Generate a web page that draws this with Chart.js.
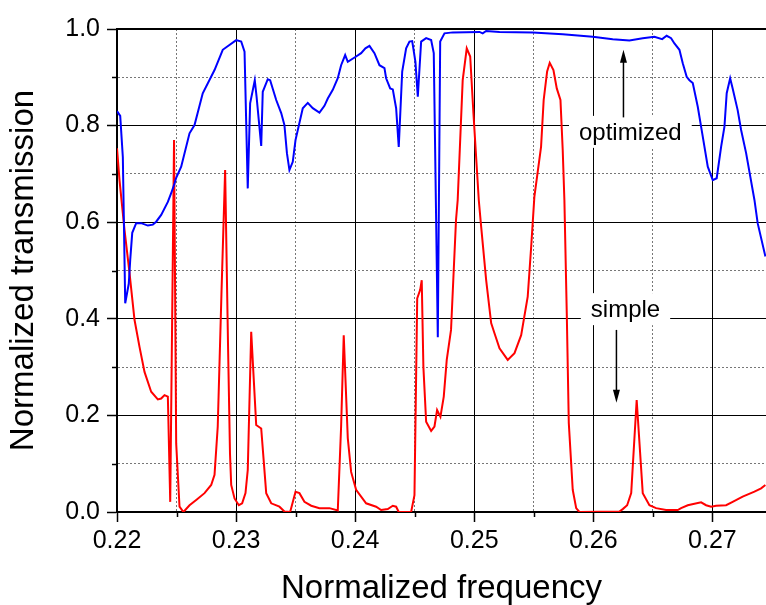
<!DOCTYPE html>
<html>
<head>
<meta charset="utf-8">
<script src="https://cdn.jsdelivr.net/npm/chart.js@4"></script>
<style>
  html, body { margin: 0; padding: 0; background: #fff; }
  #wrap { width: 766px; height: 605px; }
</style>
</head>
<body>
<div id="wrap"><canvas id="chart"></canvas></div>
<script>
// optimized structure (blue)
const blueFreq = [0.2200, 0.22027, 0.22049, 0.22069, 0.22099, 0.22111, 0.22128, 0.22161, 0.22203, 0.22259,
  0.22301, 0.22329, 0.22371, 0.22427, 0.22455, 0.22483, 0.22497, 0.22539, 0.22609, 0.22651,
  0.22720, 0.22819, 0.22888, 0.23001, 0.23043, 0.23071, 0.23098, 0.23118, 0.23157, 0.23172,
  0.23211, 0.23224, 0.23266, 0.23286, 0.23337, 0.23379, 0.23406, 0.23427, 0.23448, 0.23476,
  0.23499, 0.23560, 0.23602, 0.23644, 0.23700, 0.23742, 0.23770, 0.23812, 0.23854, 0.23882,
  0.23916, 0.23938, 0.24008, 0.24050, 0.24086, 0.24120, 0.24162, 0.24204, 0.24246, 0.24260,
  0.24294, 0.24316, 0.24344, 0.24366, 0.24395, 0.24428, 0.24456, 0.24479, 0.24506, 0.24526,
  0.24554, 0.24596, 0.24638, 0.24660, 0.24694, 0.24714, 0.24750, 0.24820, 0.25044, 0.25071,
  0.25100, 0.25212, 0.25491, 0.25743, 0.25995, 0.26163, 0.26303, 0.26415, 0.26513, 0.26578,
  0.26616, 0.26653, 0.26681, 0.26723, 0.26751, 0.26784, 0.26807, 0.26835, 0.26877, 0.26919,
  0.26961, 0.27003, 0.27036, 0.27073, 0.27101, 0.27120, 0.27149, 0.27170, 0.27212, 0.27241,
  0.27283, 0.27353, 0.27380, 0.27445];
const blueT = [0.830, 0.820, 0.735, 0.432, 0.473, 0.522, 0.578, 0.598, 0.598, 0.593,
  0.595, 0.601, 0.615, 0.642, 0.660, 0.680, 0.692, 0.715, 0.784, 0.801,
  0.867, 0.915, 0.957, 0.977, 0.974, 0.953, 0.670, 0.846, 0.894, 0.860,
  0.758, 0.870, 0.896, 0.894, 0.853, 0.826, 0.801, 0.743, 0.708, 0.725,
  0.770, 0.836, 0.847, 0.836, 0.827, 0.841, 0.856, 0.874, 0.898, 0.925,
  0.946, 0.932, 0.943, 0.950, 0.960, 0.965, 0.950, 0.925, 0.919, 0.898,
  0.877, 0.875, 0.836, 0.756, 0.912, 0.960, 0.974, 0.975, 0.932, 0.860,
  0.974, 0.981, 0.977, 0.950, 0.362, 0.974, 0.991, 0.993, 0.994, 0.991,
  0.996, 0.994, 0.993, 0.989, 0.984, 0.979, 0.976, 0.981, 0.984, 0.979,
  0.986, 0.981, 0.970, 0.957, 0.929, 0.901, 0.894, 0.888, 0.839, 0.777,
  0.715, 0.687, 0.691, 0.756, 0.798, 0.867, 0.898, 0.877, 0.832, 0.791,
  0.743, 0.646, 0.598, 0.529];

// simple structure (red)
const redFreq = [0.2200, 0.22021, 0.22063, 0.22105, 0.22147, 0.22189, 0.22231, 0.22287, 0.22343, 0.22371,
  0.22399, 0.22427, 0.22447, 0.22479, 0.22497, 0.22525, 0.22558, 0.22609, 0.22665, 0.22735,
  0.22791, 0.22819, 0.22846, 0.22877, 0.22908, 0.22932, 0.22949, 0.22959, 0.22987, 0.23023,
  0.23051, 0.23079, 0.23098, 0.23127, 0.23169, 0.23211, 0.23253, 0.23295, 0.23364, 0.23406,
  0.23454, 0.23499, 0.23532, 0.23574, 0.23631, 0.23700, 0.23784, 0.23854, 0.23882, 0.23904,
  0.23938, 0.23966, 0.24008, 0.24092, 0.24176, 0.24218, 0.24274, 0.24316, 0.24344, 0.24366,
  0.24470, 0.24498, 0.24521, 0.24546, 0.24559, 0.24573, 0.24596, 0.24638, 0.24666, 0.24688,
  0.24716, 0.24744, 0.24769, 0.24805, 0.24847, 0.24861, 0.24903, 0.24937, 0.24966, 0.24993,
  0.25038, 0.25058, 0.25100, 0.25142, 0.25170, 0.25212, 0.25281, 0.25338, 0.25394, 0.25449,
  0.25478, 0.25505, 0.25561, 0.25583, 0.25612, 0.25634, 0.25665, 0.25693, 0.25724, 0.25743,
  0.25757, 0.25777, 0.25794, 0.25827, 0.25856, 0.25883, 0.26219, 0.26247, 0.26284, 0.26318,
  0.26364, 0.26415, 0.26471, 0.26527, 0.26611, 0.26709, 0.26737, 0.26793, 0.26849, 0.26905,
  0.26947, 0.26989, 0.27031, 0.27115, 0.27170, 0.27254, 0.27353, 0.27409, 0.27445];
const redT = [0.753, 0.687, 0.584, 0.495, 0.398, 0.342, 0.290, 0.249, 0.233, 0.235,
  0.242, 0.239, 0.021, 0.770, 0.142, 0.011, 0.000, 0.014, 0.025, 0.039,
  0.056, 0.077, 0.177, 0.450, 0.708, 0.350, 0.120, 0.056, 0.028, 0.014,
  0.018, 0.039, 0.087, 0.373, 0.180, 0.173, 0.039, 0.018, 0.011, 0.001,
  0.000, 0.042, 0.039, 0.021, 0.013, 0.008, 0.008, 0.003, 0.177, 0.366,
  0.153, 0.083, 0.046, 0.018, 0.011, 0.004, 0.006, 0.013, 0.011, 0.000,
  0.000, 0.035, 0.442, 0.460, 0.480, 0.300, 0.187, 0.168, 0.177, 0.211,
  0.197, 0.239, 0.315, 0.377, 0.605, 0.646, 0.894, 0.960, 0.943, 0.826,
  0.646, 0.591, 0.480, 0.391, 0.370, 0.339, 0.315, 0.329, 0.366, 0.446,
  0.549, 0.653, 0.756, 0.853, 0.912, 0.930, 0.915, 0.877, 0.853, 0.749,
  0.646, 0.411, 0.184, 0.046, 0.008, 0.000, 0.001, 0.006, 0.014, 0.039,
  0.232, 0.039, 0.014, 0.008, 0.004, 0.004, 0.008, 0.014, 0.017, 0.020,
  0.014, 0.011, 0.013, 0.014, 0.021, 0.032, 0.042, 0.049, 0.056];

const xMajor = [0.22, 0.23, 0.24, 0.25, 0.26, 0.27];
const xMinor = [0.225, 0.235, 0.245, 0.255, 0.265];
const yMajor = [0.0, 0.2, 0.4, 0.6, 0.8, 1.0];
const yMinor = [0.1, 0.3, 0.5, 0.7, 0.9];

// labels with arrows
const noteText = ['optimized', 'simple'];
const noteAt = [[0.26311, 0.787], [0.26270, 0.420]];
const arrowX = [0.26253, 0.26194];
const arrowFrom = [0.817, 0.377];
const arrowTo = [0.957, 0.226];

const FONT = "'Liberation Sans', Arial, sans-serif";

function pts(xs, ys) {
  return xs.map((x, i) => ({ x: x, y: ys[i] }));
}
function isMajor(list, v) {
  return list.some(m => Math.abs(m - v) < 1e-6);
}

const extras = {
  id: 'extras',
  beforeDatasetsDraw(chart) {
    const { ctx, chartArea, scales } = chart;
    const xs = scales.x, ys = scales.y;
    ctx.save();
    // minor ticks (shorter)
    ctx.strokeStyle = '#000';
    ctx.lineWidth = 1.5;
    xMinor.forEach(v => {
      const px = Math.round(xs.getPixelForValue(v)) + 0.5;
      ctx.beginPath();
      ctx.moveTo(px, chartArea.bottom);
      ctx.lineTo(px, chartArea.bottom + 5);
      ctx.stroke();
    });
    yMinor.forEach(v => {
      const py = Math.round(ys.getPixelForValue(v)) + 0.5;
      ctx.beginPath();
      ctx.moveTo(chartArea.left - 5, py);
      ctx.lineTo(chartArea.left, py);
      ctx.stroke();
    });
    // top frame line
    ctx.lineWidth = 2;
    ctx.beginPath();
    ctx.moveTo(chartArea.left, chartArea.top);
    ctx.lineTo(chartArea.right, chartArea.top);
    ctx.stroke();

    // text boxes
    ctx.font = '24px ' + FONT;
    ctx.textAlign = 'center';
    ctx.textBaseline = 'middle';
    noteText.forEach((t, i) => {
      const cx = xs.getPixelForValue(noteAt[i][0]);
      const cy = ys.getPixelForValue(noteAt[i][1]);
      const w = ctx.measureText(t).width + 20;
      ctx.fillStyle = '#fff';
      ctx.fillRect(cx - w / 2, cy - 16, w, 32);
      ctx.fillStyle = '#000';
      ctx.fillText(t, cx, cy + 1);
    });

    // arrows
    ctx.strokeStyle = '#000';
    ctx.fillStyle = '#000';
    ctx.lineWidth = 1.5;
    arrowX.forEach((v, i) => {
      const px = xs.getPixelForValue(v);
      const y0 = ys.getPixelForValue(arrowFrom[i]);
      const y1 = ys.getPixelForValue(arrowTo[i]);
      const dir = y1 < y0 ? 1 : -1;
      ctx.beginPath();
      ctx.moveTo(px, y0);
      ctx.lineTo(px, y1 + dir * 10);
      ctx.stroke();
      ctx.beginPath();
      ctx.moveTo(px, y1);
      ctx.lineTo(px - 3.5, y1 + dir * 13);
      ctx.lineTo(px + 3.5, y1 + dir * 13);
      ctx.closePath();
      ctx.fill();
    });
    ctx.restore();
  }
};

new Chart(document.getElementById('chart'), {
  type: 'line',
  data: {
    datasets: [
      { label: 'optimized', data: pts(blueFreq, blueT), borderColor: '#0000ff', borderWidth: 2 },
      { label: 'simple', data: pts(redFreq, redT), borderColor: '#ff0000', borderWidth: 2 }
    ]
  },
  options: {
    responsive: true,
    maintainAspectRatio: false,
    animation: false,
    events: [],
    parsing: false,
    layout: { padding: { top: 29, right: 0, left: 0, bottom: 0 } },
    elements: { point: { radius: 0 }, line: { tension: 0 } },
    plugins: { legend: { display: false }, tooltip: { enabled: false } },
    scales: {
      x: {
        type: 'linear',
        min: 0.22,
        max: 0.2745,
        afterBuildTicks: s => { s.ticks = xMajor.concat(xMinor).sort((a, b) => a - b).map(v => ({ value: v })); },
        afterFit: s => { s.height = 93; },
        ticks: {
          color: '#000',
          padding: 4,
          maxRotation: 0,
          autoSkip: false,
          font: { family: FONT, size: 25 },
          callback: v => isMajor(xMajor, v) ? v.toFixed(2) : ''
        },
        grid: {
          color: c => isMajor(xMajor, c.tick.value) ? '#000' : '#777',
          lineWidth: 1,
          tickLength: 10,
          tickWidth: 1.5,
          tickColor: c => isMajor(xMajor, c.tick.value) ? '#000' : 'rgba(0,0,0,0)'
        },
        border: { color: '#000', width: 2, dash: c => isMajor(xMajor, c.tick.value) ? [] : [2, 2] },
        title: { display: true, text: 'Normalized frequency', color: '#000',
          font: { family: FONT, size: 33, lineHeight: 1.0 }, padding: { top: 0, bottom: 0 } }
      },
      y: {
        min: 0,
        max: 1,
        afterBuildTicks: s => { s.ticks = yMajor.concat(yMinor).sort((a, b) => a - b).map(v => ({ value: v })); },
        afterFit: s => { s.width = 117; },
        ticks: {
          color: '#000',
          padding: 7,
          autoSkip: false,
          font: { family: FONT, size: 25 },
          callback: v => isMajor(yMajor, v) ? v.toFixed(1) : ''
        },
        grid: {
          color: c => isMajor(yMajor, c.tick.value) ? '#000' : '#777',
          lineWidth: 1,
          tickLength: 10,
          tickWidth: 1.5,
          tickColor: c => isMajor(yMajor, c.tick.value) ? '#000' : 'rgba(0,0,0,0)'
        },
        border: { color: '#000', width: 2, dash: c => isMajor(yMajor, c.tick.value) ? [] : [2, 2] },
        title: { display: true, text: 'Normalized transmission', color: '#000',
          font: { family: FONT, size: 33 }, padding: { top: 4, bottom: 0 } }
      }
    }
  },
  plugins: [extras]
});
</script>
</body>
</html>
